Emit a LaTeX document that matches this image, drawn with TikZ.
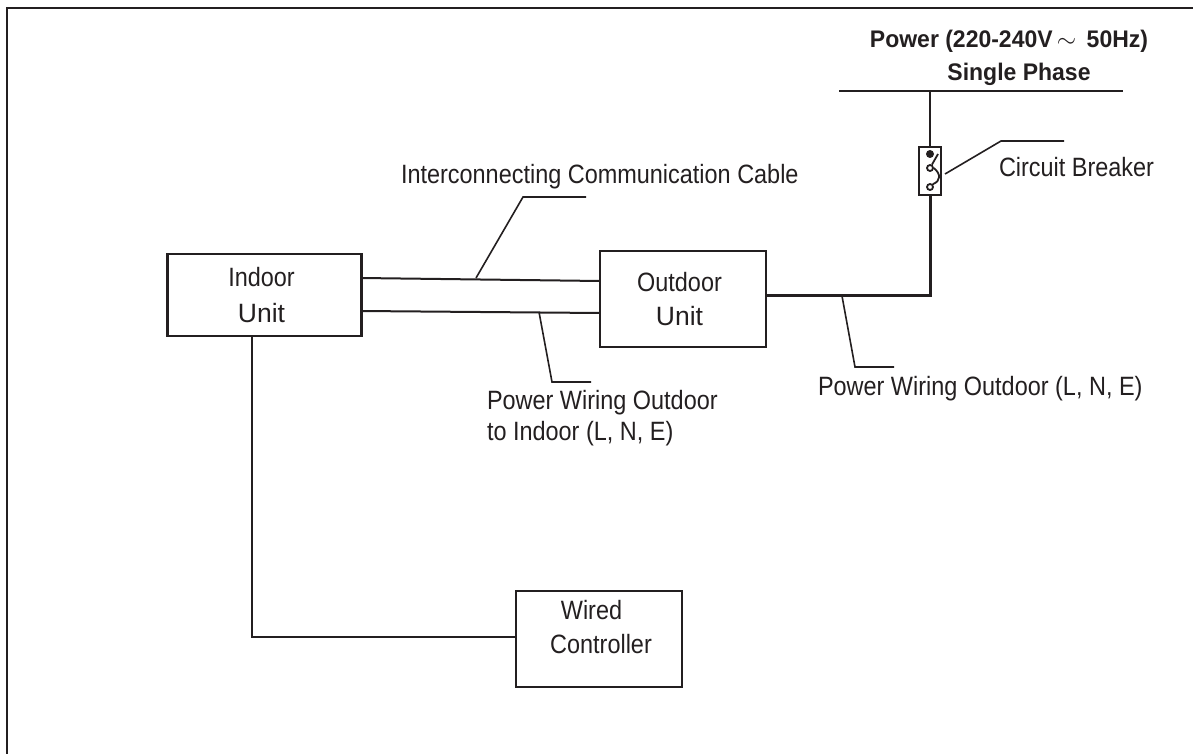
\documentclass[tikz,border=0pt]{standalone}
\usepackage{fontspec}
\setmainfont[FakeStretch=0.885]{Liberation Sans}
\newfontfamily\plainface{Liberation Sans}
\newfontfamily\powerface[FakeStretch=0.958]{Liberation Sans}
\usetikzlibrary{positioning, calc}
\definecolor{wire}{HTML}{231F20}
\newcommand{\bigunit}{\plainface Unit}
\tikzset{
    every node/.style={font=\fontsize{26.5}{34}\selectfont, text=wire},
    unit/.style={draw=wire, line width=2pt, inner sep=0pt, outer sep=0pt, align=center}, % the three boxes
    cable/.style={draw=wire, line width=2pt},
    leader/.style={draw=wire, line width=1.6pt},
    caption/.style={inner sep=0pt, outer sep=0pt, align=left, anchor=west}
}

\begin{document}
\begin{tikzpicture}[x=1pt,y=-1pt]
        \useasboundingbox (0,0) rectangle (1193,754);

        \node[unit, line width=2.6pt, minimum width=194pt, minimum height=82pt] (indoor) at (264.5,295) {Indoor\hspace*{6pt}\\[2pt]\bigunit\hspace*{6pt}};
        \node[unit, minimum width=166pt, minimum height=96pt] (outdoor) at (683,299) {Outdoor\hspace*{7pt}\\\bigunit\hspace*{7pt}};
        \node[unit, minimum width=166pt, minimum height=96pt] (wired) at (599,639) {};
        \node[align=center, inner sep=0pt] (wiredtext) at (601,627) {Wired\hspace*{19pt}\\Controller};
        \node[unit, minimum width=22pt, minimum height=48pt] (breaker) at (930,171) {};

        % frame, open on the right and at the bottom
        \coordinate (fa) at (7,754);
        \coordinate (fb) at (7,8);
        \coordinate (fc) at (1193,8);
        \draw[wire, line width=2.4pt] (fa) -- (fb) -- (fc);

        % mains
        \coordinate (busl) at (839,91);
        \coordinate (busr) at (1123,91);
        \coordinate (bustap) at (930,91);
        \coordinate (feed) at (930,295);
        \draw[cable] (busl) -- (busr);
        \draw[cable] (bustap) -- (breaker.north);
        \draw[cable, line width=3pt] (breaker.south) -- (feed) -- (feed -| outdoor.east);

        % cables between the units
        \coordinate (ca) at (361,278);
        \coordinate (cb) at (600,281);
        \coordinate (cc) at (361,311);
        \coordinate (cd) at (600,313);
        \draw[cable] (ca) -- (cb);
        \draw[cable] (cc) -- (cd);

        % controller line
        \coordinate (ctl) at (252,637);
        \draw[cable] (indoor.south -| ctl) -- (ctl) -- (ctl -| wired.west);

        % switch inside the breaker
        \node[circle, fill=wire, inner sep=0pt, minimum size=8pt] (swdot) at (930,154) {};
        \node[circle, draw=wire, line width=1.8pt, inner sep=0pt, minimum size=6pt] (swa) at (930,168) {};
        \node[circle, draw=wire, line width=1.8pt, inner sep=0pt, minimum size=6pt] (swb) at (930,187) {};
        \coordinate (swt) at (938,154);
        \draw[wire, line width=1.8pt] (swt) -- (swa);
        \draw[wire, line width=1.8pt] (swa.east) .. controls (941,174) and (941,181) .. (swb.north east);

        % leaders and their labels
        \coordinate (la) at (476,278);
        \coordinate (lb) at (523,197);
        \coordinate (lc) at (586,197);
        \draw[leader] (la) -- (lb) -- (lc);
        \node[caption] (comm) at (401,177) {Interconnecting Communication Cable};

        \coordinate (ld) at (539,312);
        \coordinate (le) at (552,382);
        \coordinate (lf) at (591,382);
        \draw[leader] (ld) -- (le) -- (lf);
        \node[caption] (wiring) at (487,418) {Power Wiring Outdoor\\[-3pt]to Indoor (L, N, E)};

        \coordinate (lg) at (842,296);
        \coordinate (lh) at (855,367);
        \coordinate (li) at (894,367);
        \draw[leader] (lg) -- (lh) -- (li);
        \node[caption] (supply) at (818,389) {Power Wiring Outdoor (L, N, E)};

        \coordinate (lj) at (945,174);
        \coordinate (lk) at (1001,141);
        \coordinate (ll) at (1064,141);
        \draw[leader] (lj) -- (lk) -- (ll);
        \node[caption] (brk) at (999,167) {Circuit Breaker};

        \node[align=center, inner sep=0pt, font=\fontsize{24}{33}\selectfont\powerface\bfseries] (power) at (1009,58) {Power (220-240V$\,\sim\,$ 50Hz)\\\hspace*{20pt}Single Phase};
    \end{tikzpicture}
\end{document}
